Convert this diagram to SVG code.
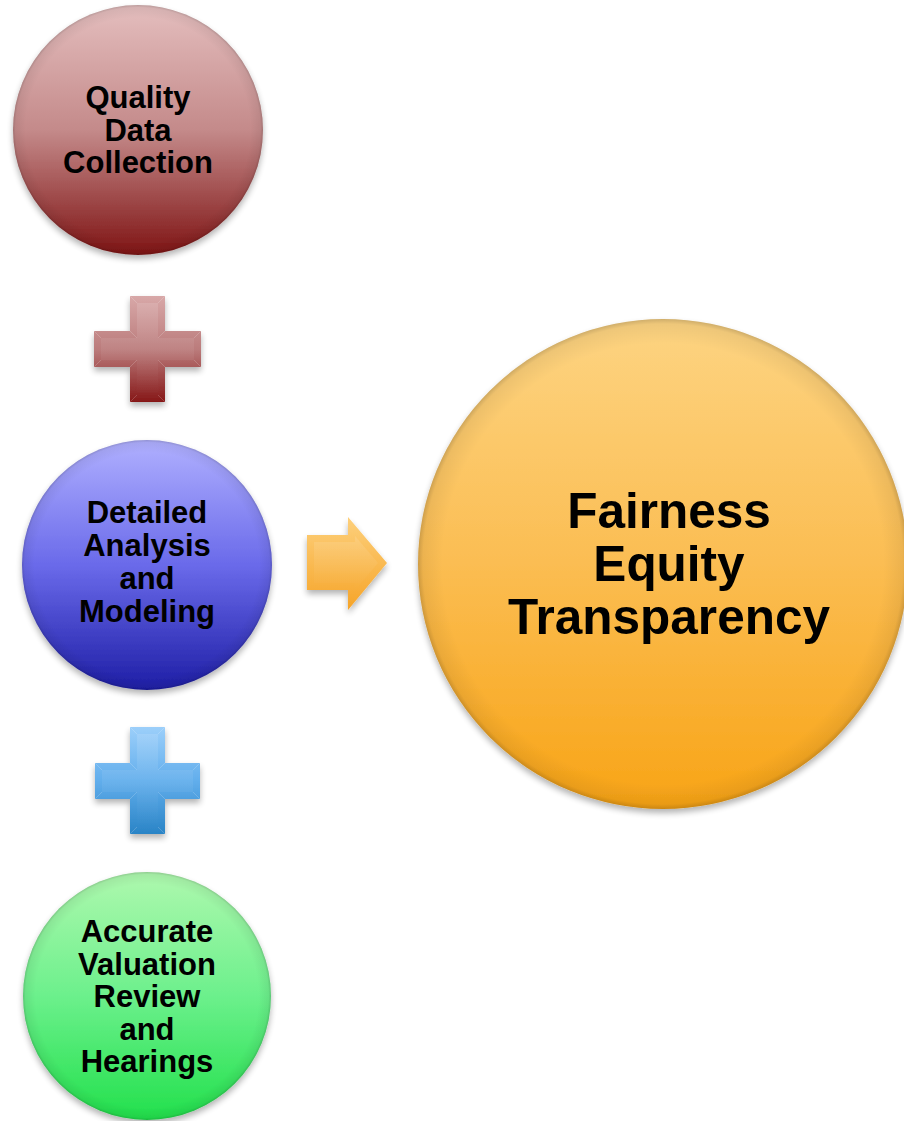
<svg xmlns="http://www.w3.org/2000/svg" width="904" height="1121" viewBox="0 0 904 1121">
<defs>
<linearGradient id="gRed" x1="0" y1="0" x2="0" y2="1">
<stop offset="0" stop-color="#e4bebe"/><stop offset="0.5" stop-color="#c48a8a"/><stop offset="1" stop-color="#7f1414"/>
</linearGradient>
<linearGradient id="gBlue" x1="0" y1="0" x2="0" y2="1">
<stop offset="0" stop-color="#b0b0ff"/><stop offset="0.5" stop-color="#6a6aea"/><stop offset="1" stop-color="#1e1ea6"/>
</linearGradient>
<linearGradient id="gGreen" x1="0" y1="0" x2="0" y2="1">
<stop offset="0" stop-color="#aef8ae"/><stop offset="0.5" stop-color="#6cf08c"/><stop offset="1" stop-color="#22e04c"/>
</linearGradient>
<linearGradient id="gOrange" x1="0" y1="0" x2="0" y2="1">
<stop offset="0" stop-color="#fdd482"/><stop offset="0.5" stop-color="#fbbd52"/><stop offset="1" stop-color="#f8a416"/>
</linearGradient>
<linearGradient id="gRedCross" x1="0" y1="0" x2="0" y2="1">
<stop offset="0" stop-color="#d8a8a8"/><stop offset="0.5" stop-color="#bb7c7c"/><stop offset="1" stop-color="#861818"/>
</linearGradient>
<linearGradient id="gBlueCross" x1="0" y1="0" x2="0" y2="1">
<stop offset="0" stop-color="#9ccffa"/><stop offset="0.5" stop-color="#62aeec"/><stop offset="1" stop-color="#2a84c6"/>
</linearGradient>
<linearGradient id="gArrow" x1="0" y1="0" x2="0" y2="1">
<stop offset="0" stop-color="#fdd07c"/><stop offset="1" stop-color="#f6a428"/>
</linearGradient>
<radialGradient id="rim" cx="0.5" cy="0.5" r="0.5">
<stop offset="0.9" stop-color="#000" stop-opacity="0"/><stop offset="0.98" stop-color="#000" stop-opacity="0.06"/><stop offset="1" stop-color="#000" stop-opacity="0.18"/>
</radialGradient>
<linearGradient id="bevelHi" x1="0" y1="0" x2="0" y2="1">
<stop offset="0" stop-color="#fff" stop-opacity="0.12"/><stop offset="1" stop-color="#fff" stop-opacity="0"/>
</linearGradient>
<filter id="shadow" x="-20%" y="-20%" width="140%" height="150%">
<feGaussianBlur in="SourceAlpha" stdDeviation="3"/>
<feOffset dx="0" dy="4" result="b"/>
<feComponentTransfer><feFuncA type="linear" slope="0.3"/></feComponentTransfer>
<feMerge><feMergeNode/><feMergeNode in="SourceGraphic"/></feMerge>
</filter>
</defs>
<style>
.lbl{font-family:"Liberation Sans",Arial,sans-serif;font-weight:bold;fill:#000;text-anchor:middle}
.sm{font-size:31px}
.lg{font-size:49.5px}
</style>
<rect width="904" height="1121" fill="#fff"/>

<g id="node-quality">
<circle cx="138" cy="130" r="125" fill="url(#gRed)" filter="url(#shadow)"/>
<circle cx="138" cy="130" r="125" fill="url(#rim)"/>
<text class="lbl sm" x="138" y="108">Quality</text>
<text class="lbl sm" x="138" y="140.5">Data</text>
<text class="lbl sm" x="138" y="173">Collection</text>
</g>

<g id="plus-red" filter="url(#shadow)">
<path d="M130,296 H165 V331 H201 V367 H165 V402 H130 V367 H94 V331 H130 Z" fill="url(#gRedCross)"/>
<path d="M137,303 H158 V338 H194 V360 H158 V395 H137 V360 H101 V338 H137 Z" fill="url(#bevelHi)"/>
<path d="M130,296 L137,303 M165,296 L158,303 M201,331 L194,338 M201,367 L194,360 M165,402 L158,395 M130,402 L137,395 M94,367 L101,360 M94,331 L101,338 M130,331 L137,338 M165,331 L158,338 M165,367 L158,360 M130,367 L137,360" stroke="#fff" stroke-opacity="0.18" stroke-width="1"/>
</g>

<g id="node-analysis">
<circle cx="147" cy="565" r="125" fill="url(#gBlue)" filter="url(#shadow)"/>
<circle cx="147" cy="565" r="125" fill="url(#rim)"/>
<text class="lbl sm" x="147" y="523">Detailed</text>
<text class="lbl sm" x="147" y="556">Analysis</text>
<text class="lbl sm" x="147" y="589">and</text>
<text class="lbl sm" x="147" y="622">Modeling</text>
</g>

<g id="plus-blue" filter="url(#shadow)">
<path d="M130,727 H165 V763 H200 V799 H165 V834 H130 V799 H95 V763 H130 Z" fill="url(#gBlueCross)"/>
<path d="M137,734 H158 V770 H193 V792 H158 V827 H137 V792 H102 V770 H137 Z" fill="url(#bevelHi)"/>
<path d="M130,727 L137,734 M165,727 L158,734 M200,763 L193,770 M200,799 L193,792 M165,834 L158,827 M130,834 L137,827 M95,799 L102,792 M95,763 L102,770 M130,763 L137,770 M165,763 L158,770 M165,799 L158,792 M130,799 L137,792" stroke="#fff" stroke-opacity="0.18" stroke-width="1"/>
</g>

<g id="node-valuation">
<circle cx="147" cy="996" r="124" fill="url(#gGreen)" filter="url(#shadow)"/>
<circle cx="147" cy="996" r="124" fill="url(#rim)"/>
<text class="lbl sm" x="147" y="942">Accurate</text>
<text class="lbl sm" x="147" y="974.5">Valuation</text>
<text class="lbl sm" x="147" y="1007">Review</text>
<text class="lbl sm" x="147" y="1039.5">and</text>
<text class="lbl sm" x="147" y="1072">Hearings</text>
</g>

<g id="connectors">
<g filter="url(#shadow)">
<path d="M307,535 H348 V517 L387,563 L348,610 V590 H307 Z" fill="url(#gArrow)"/>
<path d="M314,542 H355 V536 L378,563 L355,590 V583 H314 Z" fill="url(#bevelHi)"/>
</g>
</g>

<g id="node-result">
<circle cx="663" cy="564" r="245" fill="url(#gOrange)" filter="url(#shadow)"/>
<circle cx="663" cy="564" r="245" fill="url(#rim)"/>
<text class="lbl lg" x="669" y="528">Fairness</text>
<text class="lbl lg" x="669" y="581">Equity</text>
<text class="lbl lg" x="669" y="634">Transparency</text>
</g>
</svg>
